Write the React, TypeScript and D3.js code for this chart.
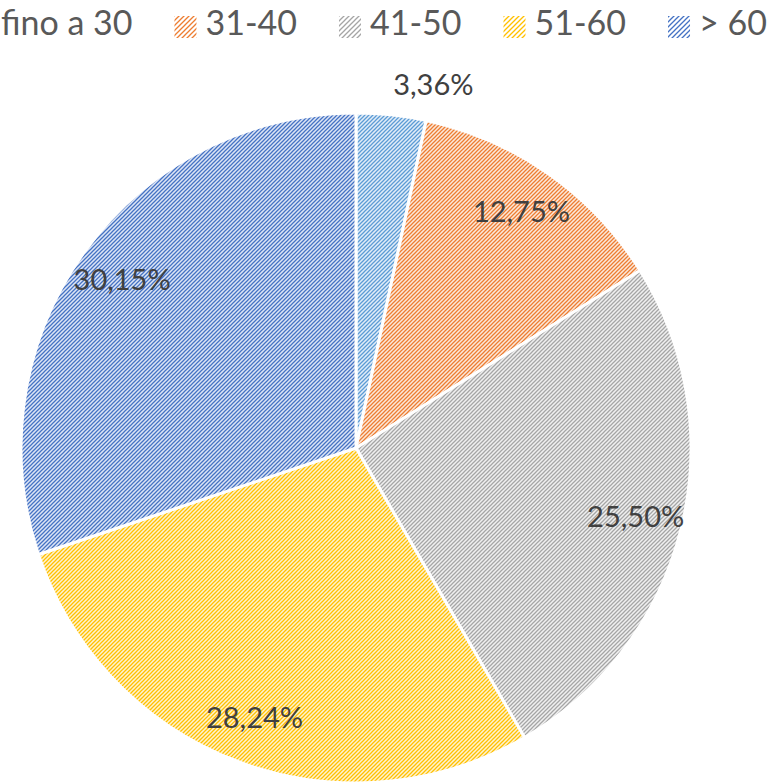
import React, { useEffect, useRef } from 'react';
import * as d3 from 'd3';

// age groups and their share (%)
const categories = ['fino a 30', '31-40', '41-50', '51-60', '> 60'];
const values = [3.36, 12.75, 25.5, 28.24, 30.15];
const labels = ['3,36%', '12,75%', '25,50%', '28,24%', '30,15%'];
const stripeColors = ['#5B9BD5', '#ED7D31', '#A5A5A5', '#FFC000', '#4472C4'];
const tintColors = ['#E2EDF8', '#FCE8DA', '#F0F0F0', '#FFF3D0', '#DDE5F5'];

const App = () => {
    const svgRef = useRef<SVGSVGElement>(null);

    useEffect(() => {
        const width = 778;
        const height = 782;
        const cx = 356;
        const cy = 448;
        const radius = 335;

        const svg = d3.select(svgRef.current).attr('width', width).attr('height', height);
        svg.selectAll('*').remove();

        const defs = svg.append('defs');
        // hatch patterns: one dense for the pie, one sparser for legend keys
        const addPattern = (id: string, size: number, stroke: string, bg: string, sw: number) => {
            const p = defs.append('pattern')
                .attr('id', id)
                .attr('patternUnits', 'userSpaceOnUse')
                .attr('width', size)
                .attr('height', size);
            p.append('rect').attr('width', size).attr('height', size).attr('fill', bg);
            p.append('path')
                .attr('d', `M${-size / 4},${size / 4} L${size / 4},${-size / 4} M0,${size} L${size},0 M${size * 0.75},${size * 1.25} L${size * 1.25},${size * 0.75}`)
                .attr('stroke', stroke)
                .attr('stroke-width', sw);
        };
        categories.forEach((c, i) => {
            addPattern(`pie${i}`, 4, stripeColors[i], tintColors[i], 1.25);
            addPattern(`leg${i}`, 5, stripeColors[i], '#ffffff', 1.3);
        });

        const pie = d3.pie<number>().sort(null).value(d => d);
        const arcs = pie(values);
        const arc = d3.arc<d3.PieArcDatum<number>>().innerRadius(0).outerRadius(radius);
        const labelArc = d3.arc<d3.PieArcDatum<number>>().innerRadius(radius * 0.86).outerRadius(radius * 0.86);
        const outerArc = d3.arc<d3.PieArcDatum<number>>().innerRadius(radius + 18).outerRadius(radius + 18);

        const g = svg.append('g').attr('transform', `translate(${cx},${cy})`);

        g.selectAll('path.slice')
            .data(arcs)
            .enter().append('path')
            .attr('class', 'slice')
            .attr('d', arc)
            .attr('fill', (d, i) => `url(#pie${i})`)
            .attr('stroke', '#ffffff')
            .attr('stroke-width', 3)
            .attr('stroke-linejoin', 'round');

        // data labels, small slices go outside
        g.selectAll('text.lbl')
            .data(arcs)
            .enter().append('text')
            .attr('class', 'lbl')
            .each(function (d, i) {
                const small = d.endAngle - d.startAngle < 0.3;
                const [x, y] = small ? outerArc.centroid(d) : labelArc.centroid(d);
                d3.select(this)
                    .attr('x', x)
                    .attr('y', small ? y - 2 : y)
                    .attr('dy', small ? 0 : '0.35em')
                    .attr('text-anchor', small ? 'start' : 'middle');
            })
            .attr('font-family', 'Lato, "Open Sans", sans-serif')
            .attr('font-size', 29)
            .attr('fill', '#404040')
            .text((d, i) => labels[i]);

        // legend across the top
        const legend = svg.append('g').attr('transform', 'translate(-30,0)');
        let x = 0;
        categories.forEach((c, i) => {
            legend.append('rect')
                .attr('x', x)
                .attr('y', 16)
                .attr('width', 22)
                .attr('height', 22)
                .attr('fill', `url(#leg${i})`);
            const t = legend.append('text')
                .attr('x', x + 31)
                .attr('y', 35)
                .attr('font-family', 'Lato, "Open Sans", sans-serif')
                .attr('font-size', 34)
                .attr('fill', '#595959')
                .text(c);
            const w = (t.node() as SVGTextElement).getComputedTextLength();
            x += 31 + w + 42;
        });
    }, []);

    return (
        <svg ref={svgRef} style={{ position: 'absolute', left: 0, top: 0, background: '#ffffff' }}></svg>
    );
};

export default App;
